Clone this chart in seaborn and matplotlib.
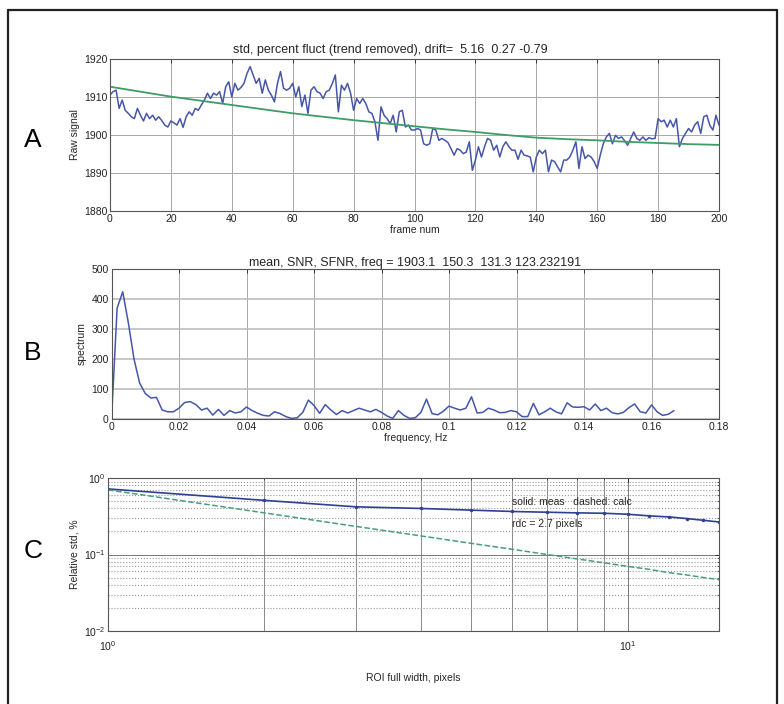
"""
fMRI phantom QA figure: raw signal drift (A), fluctuation spectrum (B),
ROI-size weisskoff curve (C).
"""
import numpy as np
import matplotlib
matplotlib.use("Agg")
import matplotlib.pyplot as plt
import matplotlib.font_manager as fm
from matplotlib.lines import Line2D
from matplotlib.ticker import FuncFormatter, LogLocator, NullFormatter
import seaborn as sns

# ======== data ========

# (A) raw signal per frame, 0..200
raw_signal = [
    1910.5, 1911.4, 1911.8, 1907.0, 1909.2, 1906.5, 1905.7, 1904.8, 1904.3, 1907.0,
    1905.2, 1903.7, 1905.7, 1904.3, 1905.2, 1903.9, 1904.8, 1903.8, 1902.6, 1902.1,
    1903.7, 1903.2, 1902.6, 1904.3, 1902.0, 1904.8, 1906.1, 1905.2, 1907.0, 1906.5,
    1907.9, 1909.2, 1911.0, 1909.6, 1911.0, 1910.5, 1911.4, 1908.3, 1912.7, 1914.0,
    1910.0, 1913.6, 1911.8, 1912.5, 1913.6, 1916.2, 1918.0, 1915.8, 1913.6, 1914.9,
    1911.0, 1914.5, 1911.8, 1910.5, 1908.7, 1913.6, 1916.7, 1912.3, 1911.8, 1912.3,
    1913.6, 1910.0, 1912.7, 1907.5, 1910.5, 1905.7, 1911.8, 1912.7, 1911.4, 1911.0,
    1909.6, 1911.4, 1911.8, 1913.5, 1915.8, 1906.1, 1913.1, 1911.8, 1913.6, 1911.0,
    1906.5, 1909.6, 1908.3, 1909.6, 1908.3, 1906.1, 1905.7, 1903.5, 1898.6, 1907.4,
    1905.2, 1904.3, 1903.0, 1905.2, 1900.8, 1906.1, 1906.5, 1902.1, 1902.6, 1901.3,
    1901.3, 1901.7, 1901.3, 1897.7, 1897.3, 1897.7, 1901.7, 1901.3, 1898.6, 1899.1,
    1898.6, 1898.0, 1896.4, 1894.7, 1896.4, 1896.0, 1895.1, 1895.5, 1898.2, 1890.7,
    1893.4, 1896.9, 1894.2, 1896.9, 1899.1, 1898.6, 1896.0, 1897.3, 1894.2, 1896.9,
    1898.2, 1896.9, 1896.0, 1896.0, 1893.6, 1896.0, 1894.7, 1894.5, 1894.2, 1890.3,
    1894.2, 1896.0, 1895.1, 1896.0, 1890.3, 1893.4, 1893.0, 1891.6, 1890.3, 1893.4,
    1893.4, 1894.2, 1896.0, 1898.2, 1891.2, 1896.9, 1893.8, 1894.7, 1894.2, 1893.0,
    1891.2, 1894.7, 1897.7, 1899.5, 1900.4, 1897.7, 1899.9, 1899.1, 1899.5, 1898.5,
    1897.3, 1899.1, 1900.8, 1899.1, 1898.6, 1899.5, 1898.6, 1899.3, 1899.0, 1899.1,
    1904.3, 1903.5, 1903.9, 1902.1, 1903.9, 1902.1, 1904.3, 1896.9, 1899.1, 1900.4,
    1901.7, 1900.8, 1902.6, 1903.5, 1900.4, 1904.8, 1905.2, 1902.5, 1901.3, 1905.2,
    1902.6,
]

# (A) fitted trend
trend_frames = [0, 10, 20, 30, 40, 50, 60, 70, 80, 90, 100,
                110, 120, 130, 140, 150, 160, 170, 180, 190, 200]
trend_values = [1912.7, 1911.4, 1910.1, 1909.0, 1907.9, 1906.8, 1905.7, 1904.8,
                1903.9, 1903.1, 1902.3, 1901.5, 1900.8, 1900.0, 1899.3, 1898.9,
                1898.6, 1898.2, 1897.9, 1897.6, 1897.4]

# (B) spectrum, one value per frequency bin
FREQ_STEP = 1 / 600.0  # Hz (200 frames, TR = 3 s)
spectrum = [
    0, 370, 424, 320, 200, 120, 85, 70, 72, 30,
    24, 24, 36, 55, 58, 48, 30, 36, 13, 32,
    12, 28, 20, 24, 40, 28, 19, 12, 10, 24,
    18, 8, 2, 4, 22, 63, 45, 19, 48, 30,
    15, 28, 20, 28, 36, 30, 24, 32, 22, 10,
    2, 28, 12, 2, 4, 22, 66, 18, 14, 26,
    43, 36, 30, 36, 74, 20, 22, 36, 30, 21,
    22, 28, 24, 8, 8, 52, 14, 24, 36, 24,
    17, 54, 40, 39, 41, 30, 50, 28, 36, 21,
    17, 22, 38, 50, 24, 20, 47, 24, 12, 16,
    28,
]

# (C) relative std vs ROI width
roi_width = [1, 2, 3, 4, 5, 6, 7, 8, 9, 10, 11, 12, 13, 14, 15]
rel_std_meas = [0.72, 0.51, 0.42, 0.40, 0.38, 0.365, 0.357, 0.35, 0.346,
                0.336, 0.32, 0.31, 0.295, 0.28, 0.266]
rel_std_calc = [0.70, 0.35, 0.233, 0.175, 0.14, 0.117, 0.10, 0.0875, 0.078,
                0.07, 0.064, 0.058, 0.054, 0.05, 0.047]

title_a = "std, percent fluct (trend removed), drift=  5.16  0.27 -0.79"
title_b = "mean, SNR, SFNR, freq = 1903.1  150.3  131.3 123.232191"
note_c = ["solid: meas   dashed: calc", "rdc = 2.7 pixels"]

# ======== style ========
sns.set_style("white")
_names = {f.name for f in fm.fontManager.ttflist}
_fam = "Liberation Sans Narrow" if "Liberation Sans Narrow" in _names else "Liberation Sans"
plt.rcParams["font.family"] = [_fam, "DejaVu Sans"]
plt.rcParams["mathtext.fontset"] = "custom"
plt.rcParams["mathtext.rm"] = _fam

FS = 7.5      # ticks, axis labels, notes
FS_T = 9      # panel titles
BLUE = "#4656a8"
GREEN = "#3f9c66"
DKBLUE = "#2f3f92"
TEAL = "#4a9c80"
SPINE = "#555555"

W, H = 784, 704


def px_axes(fig, left, top, right, bottom):
    return fig.add_axes([left / W, (H - bottom) / H, (right - left) / W, (bottom - top) / H])


def matlab_axes(ax):
    for s in ax.spines.values():
        s.set_color(SPINE)
        s.set_linewidth(0.8)
    ax.tick_params(direction="in", top=True, right=True, length=3, width=0.6,
                   labelsize=FS, pad=2, colors="#222222")


gfmt = FuncFormatter(lambda v, _: f"{v:g}")

fig = plt.figure(figsize=(W / 100, H / 100), dpi=100)

# ---- (A) ----
ax_a = px_axes(fig, 110, 59, 719, 211)
sns.lineplot(x=np.arange(len(raw_signal)), y=raw_signal, ax=ax_a, color=BLUE, lw=1.1)
sns.lineplot(x=trend_frames, y=trend_values, ax=ax_a, color=GREEN, lw=1.3)
ax_a.set_xlim(0, 200)
ax_a.set_ylim(1880, 1920)
ax_a.set_xticks(range(0, 201, 20))
ax_a.set_yticks(range(1880, 1921, 10))
ax_a.xaxis.set_major_formatter(gfmt)
ax_a.grid(True, color="#a8a8a8", lw=0.7)
matlab_axes(ax_a)
ax_a.set_xlabel("frame num", fontsize=FS, labelpad=1)
ax_a.set_ylabel("Raw signal", fontsize=FS, labelpad=3)
ax_a.set_title(title_a, fontsize=FS_T, x=0.46, pad=4)

# ---- (B) ----
ax_b = px_axes(fig, 111.5, 269, 719, 419)
freqs = np.arange(len(spectrum)) * FREQ_STEP
sns.lineplot(x=freqs, y=spectrum, ax=ax_b, color=BLUE, lw=1.1)
ax_b.set_xlim(0, 0.18)
ax_b.set_ylim(0, 500)
ax_b.set_xticks(np.arange(0, 0.181, 0.02))
ax_b.set_yticks(range(0, 501, 100))
ax_b.xaxis.set_major_formatter(FuncFormatter(lambda v, _: f"{round(v, 3):g}"))
ax_b.grid(True, color="#a8a8a8", lw=0.7)
ax_b.grid(True, axis="y", color="#b8b8b8", lw=1.1)
matlab_axes(ax_b)
ax_b.set_xlabel("frequency, Hz", fontsize=FS, labelpad=1)
ax_b.set_ylabel("spectrum", fontsize=FS, labelpad=3)
ax_b.set_title(title_b, fontsize=FS_T, pad=2)

# ---- (C) ----
ax_c = px_axes(fig, 108, 478, 719, 631)
sns.lineplot(x=roi_width, y=rel_std_meas, ax=ax_c, color=DKBLUE, lw=1.2,
             marker="o", markersize=2.5, markeredgewidth=0)
sns.lineplot(x=roi_width, y=rel_std_calc, ax=ax_c, color=TEAL, lw=1.1,
             linestyle="--", dashes=(4, 2))
ax_c.set_xscale("log")
ax_c.set_yscale("log")
ax_c.set_xlim(1, 15)
ax_c.set_ylim(0.01, 1)
ax_c.xaxis.set_major_locator(LogLocator(base=10, numticks=5))
ax_c.xaxis.set_minor_locator(LogLocator(base=10, subs=np.arange(2, 10), numticks=10))
ax_c.xaxis.set_minor_formatter(NullFormatter())
ax_c.yaxis.set_major_locator(LogLocator(base=10, numticks=5))
ax_c.yaxis.set_minor_locator(LogLocator(base=10, subs=np.arange(2, 10), numticks=10))
ax_c.yaxis.set_minor_formatter(NullFormatter())
ax_c.grid(True, which="major", color="#777777", lw=0.7)
ax_c.grid(True, which="minor", axis="x", color="#777777", lw=0.6)
ax_c.grid(True, which="minor", axis="y", color="#999999", lw=0.8, linestyle=":")
matlab_axes(ax_c)
ax_c.tick_params(axis="x", which="major", pad=6)
ax_c.tick_params(which="minor", direction="in", top=True, right=True, length=1.5, width=0.5)
ax_c.set_xlabel("ROI full width, pixels", fontsize=FS, labelpad=14)
ax_c.set_ylabel("Relative std, %", fontsize=FS, labelpad=3)
ax_c.text(6, 0.48, note_c[0], fontsize=FS, va="center", ha="left")
ax_c.text(6, 0.25, note_c[1], fontsize=FS, va="center", ha="left")

# panel letters
for letter, (x, y) in zip("ABC", [(33, 140), (33, 353), (33, 551)]):
    fig.text(x / W, 1 - y / H, letter, fontsize=19, ha="center", va="center",
             family="Liberation Sans", color="black")

# frame around the figure (open at the bottom)
fx0, fx1, fy1 = 7.5 / W, 777 / W, 1 - 10 / H
for xs, ys in [([fx0, fx0], [0, fy1]), ([fx0, fx1], [fy1, fy1]), ([fx1, fx1], [fy1, 0])]:
    fig.add_artist(Line2D(xs, ys, transform=fig.transFigure, color="#222222", lw=1.6))

fig.savefig("out.png", dpi=100)
plt.close(fig)
